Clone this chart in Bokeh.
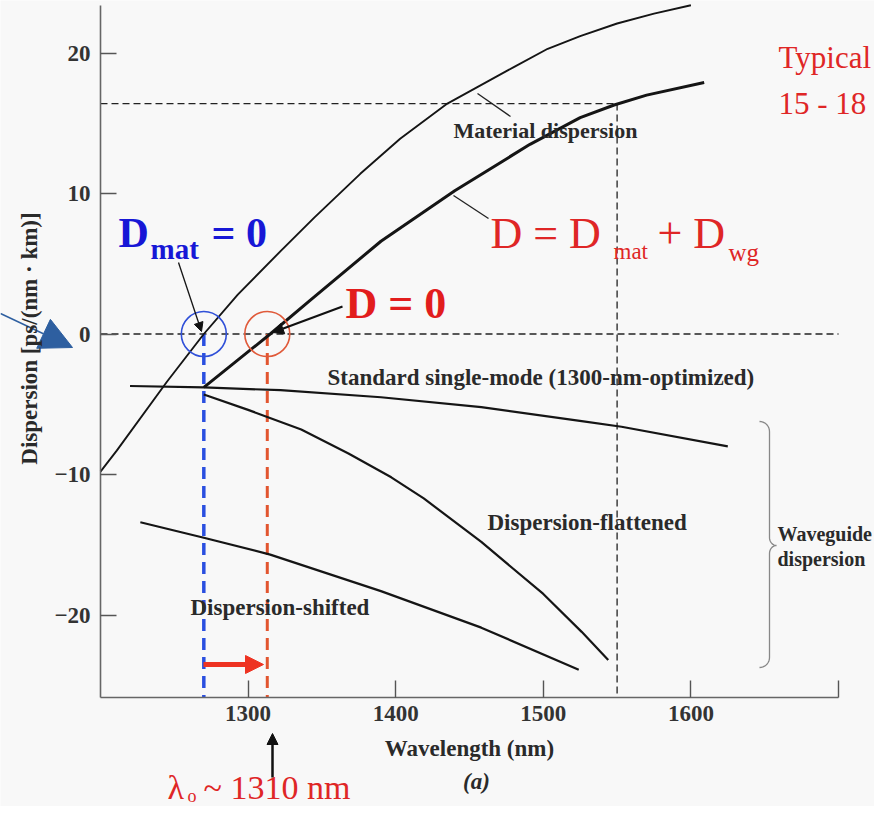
import numpy as np
from bokeh.plotting import figure
from bokeh.models import Label, Arrow, NormalHead, FixedTicker, Range1d, LinearAxis
from bokeh.embed import file_html
from bokeh.resources import INLINE

# ---------------- data ----------------
mat_lam = [1200, 1211, 1245, 1270, 1293, 1322, 1345, 1376, 1403, 1435, 1480, 1503, 1525, 1550, 1575, 1600]
mat_D = [-9.8, -8.3, -3.4, 0.0, 2.8, 5.9, 8.3, 11.4, 13.9, 16.4, 19.0, 20.3, 21.2, 22.1, 22.8, 23.4]

tot_lam = [1270, 1315, 1342, 1390, 1440, 1491, 1525, 1548, 1570, 1609]
tot_D = [-3.8, 0.0, 2.4, 6.6, 10.2, 13.5, 15.4, 16.3, 17.0, 17.9]

ssm_lam = [1220, 1270, 1322, 1390, 1458, 1526, 1553, 1625]
ssm_D = [-3.7, -3.8, -4.0, -4.5, -5.2, -6.2, -6.6, -8.0]

dff_lam = [1270, 1300, 1336, 1368, 1397, 1419, 1458, 1500, 1526, 1544]
dff_D = [-4.3, -5.4, -6.8, -8.5, -10.2, -11.7, -14.8, -18.5, -21.2, -23.2]

dsf_lam = [1227, 1270, 1315, 1390, 1458, 1524]
dsf_D = [-13.4, -14.5, -15.7, -18.3, -20.9, -23.9]

zero_lams = [1270, 1313]          # D_mat = 0 and D = 0 wavelengths
typical_D = 16.4                  # typical D at 1550 nm
lam_1550 = 1550
x_ticks = [1300, 1400, 1500, 1600, 1700]
y_ticks = [-20, -10, 0, 10, 20]
y_tick_labels = {-20: "\u221220", -10: "\u221210", 0: "0", 10: "10", 20: "20"}

# ---------------- geometry helpers (picture px -> data, for annotations) ----------------
PX_NM = 1.476      # pixels per nm
PX_D = 14.05       # pixels per ps/(nm km)
def lx(xw):
    return 1200 + (xw - 100) / PX_NM
def ly(yw):
    return (333.5 - yw) / PX_D

W, H = 874, 806
X_AX0, X_AX1 = 1200, 1700
Y_AX0, Y_AX1 = ly(697), ly(5)

BG = "#f8f8f8"
p = figure(width=W, height=H, output_backend="svg", toolbar_location=None,
           x_range=Range1d(lx(0), lx(W)), y_range=Range1d(ly(H), ly(0)),
           x_axis_location=None, y_axis_location=None,
           min_border=0, background_fill_color=BG, border_fill_color=BG,
           outline_line_color=None)
p.xgrid.visible = False
p.ygrid.visible = False

SERIF = "Liberation Serif"
TXT = "#2a2a2a"

xaxis = LinearAxis(fixed_location=Y_AX0, bounds=(X_AX0, X_AX1))
yaxis = LinearAxis(fixed_location=X_AX0, bounds=(Y_AX0, Y_AX1))
p.add_layout(xaxis, "below")
p.add_layout(yaxis, "left")

for ax in (xaxis, yaxis):
    ax.axis_line_color = "#666666"
    ax.axis_line_width = 1.6
    ax.major_tick_line_color = "#555555"
    ax.major_tick_line_width = 1.4
    ax.major_tick_out = 0
    ax.minor_tick_line_color = None
    ax.major_label_text_font = SERIF
    ax.major_label_text_font_size = "23px"
    ax.major_label_text_font_style = "bold"
    ax.major_label_text_color = "#333333"
    ax.axis_label_text_font = SERIF
    ax.axis_label_text_font_size = "23px"
    ax.axis_label_text_font_style = "bold"
    ax.axis_label_text_color = TXT

xaxis.ticker = FixedTicker(ticks=x_ticks)
xaxis.major_label_overrides = {1700: ""}
xaxis.major_tick_in = 17
xaxis.major_label_standoff = 8
xaxis.axis_label = "Wavelength (nm)"
xaxis.axis_label_standoff = 12

yaxis.ticker = FixedTicker(ticks=y_ticks)
yaxis.major_label_overrides = y_tick_labels
yaxis.major_tick_in = 16
yaxis.major_label_standoff = 10

# ---------------- reference lines ----------------
p.line([X_AX0, lam_1550], [typical_D, typical_D], line_color="#222222", line_width=1.3, line_dash="7 4")
p.line([X_AX0, X_AX1], [0, 0], line_color="#222222", line_width=1.3, line_dash="7 4")
p.line([lam_1550, lam_1550], [typical_D, Y_AX0], line_color="#222222", line_width=1.3, line_dash="7 4")
p.line([zero_lams[0], zero_lams[0]], [0, Y_AX0], line_color="#2a4fe0", line_width=3.5, line_dash="12 7")
p.line([zero_lams[1], zero_lams[1]], [0, Y_AX0], line_color="#e2552f", line_width=3.0, line_dash="12 7")

# ---------------- curves ----------------
CUR = "#151515"
p.line(mat_lam, mat_D, line_color=CUR, line_width=1.9)
p.line(tot_lam, tot_D, line_color=CUR, line_width=3.0)
p.line(ssm_lam, ssm_D, line_color=CUR, line_width=2.2)
p.line(dff_lam, dff_D, line_color=CUR, line_width=2.2)
p.line(dsf_lam, dsf_D, line_color=CUR, line_width=2.2)

# zero-crossing circles
p.scatter(x=zero_lams, y=[0, 0], size=45, marker="circle", fill_color=None,
          line_color=["#3050d8", "#e05a3a"], line_width=1.6)

# ---------------- brace for waveguide dispersion ----------------
def brace(xw, yt, yb, ym):
    t = np.linspace(0, np.pi / 2, 10)
    xs, ys = [], []
    xs += list(xw - 10 + 10 * np.sin(t)); ys += list(yt + 10 - 10 * np.cos(t))
    xs += list(xw + 7 - 7 * np.cos(t)); ys += list(ym - 8 + 8 * np.sin(t))
    xs += list(xw + 7 - 7 * np.sin(t)); ys += list(ym + 8 - 8 * np.cos(t))
    xs += list(xw - 10 + 10 * np.cos(t)); ys += list(yb - 10 + 10 * np.sin(t))
    return [lx(v) for v in xs], [ly(v) for v in ys]

bx, by = brace(769, 421, 667, 545)
p.line(bx, by, line_color="#888888", line_width=1.3)

# ---------------- arrows / leaders ----------------
def arrow(x0, y0, x1, y1, color, width, head=None):
    end = None
    if head:
        end = NormalHead(size=head, fill_color=color, line_color=color, line_width=1)
    p.add_layout(Arrow(end=end, x_start=lx(x0), y_start=ly(y0), x_end=lx(x1), y_end=ly(y1),
                       line_color=color, line_width=width))

arrow(477, 93, 510, 116, "#222222", 1.3)
arrow(453, 195, 488, 218, "#222222", 1.3)
arrow(178, 262, 201, 331, "#111111", 1.3, head=9)
arrow(342, 306, 272, 332, "#111111", 2.2, head=11)
arrow(203, 664, 263, 664, "#ee3322", 5, head=18)
arrow(272, 777, 272, 733, "#111111", 2.5, head=11)
arrow(0, 313, 72, 347, "#2e5fa0", 1.4, head=32)

# ---------------- texts ----------------
def label(xw, yw, text, size, color=TXT, style="bold", font=SERIF, align="left", angle=0.0):
    p.add_layout(Label(x=lx(xw), y=ly(yw), text=text, text_font=font, text_font_size=f"{size}px",
                       text_font_style=style, text_color=color, text_align=align,
                       text_baseline="middle", angle=angle))

def blabel(xw, base, text, size, color, style="normal"):
    # place by baseline (picture px): middle of em box sits ~0.34 em above baseline
    label(xw, base - 0.34 * size, text, size, color=color, style=style)

label(29, 338, "Dispersion [ps/(nm \u00b7 km)]", 23, align="center", angle=np.pi / 2)

label(453, 130, "Material dispersion", 22)
label(327, 377, "Standard single-mode (1300-nm-optimized)", 23)
label(487, 522, "Dispersion-flattened", 23)
label(190, 607, "Dispersion-shifted", 23)
label(777, 533, "Waveguide", 20)
label(777, 558, "dispersion", 20)
label(476, 781, "(a)", 23, style="bold italic", align="center")

BLUE = "#1717d6"
blabel(118, 247, "D", 42, BLUE, "bold")
blabel(150, 258, "mat", 29, BLUE, "bold")
blabel(211, 247, "= 0", 42, BLUE, "bold")

RED = "#e21d1d"
blabel(345, 318, "D = 0", 44, RED, "bold")

RED2 = "#df2626"
blabel(490, 248, "D = D", 44, RED2)
blabel(613, 259, "mat", 23, RED2)
blabel(657, 248, "+ D", 44, RED2)
blabel(728, 260, "wg", 25, RED2)

blabel(778, 68, "Typical", 31, RED2)
blabel(778, 114, "15 - 18", 31, RED2)

blabel(167, 799, "\u03bb", 34, RED2)
blabel(187, 802, "o", 18, RED2)
blabel(203, 799, "~ 1310 nm", 34, RED2)

open("out.html", "w").write(file_html(p, INLINE))
